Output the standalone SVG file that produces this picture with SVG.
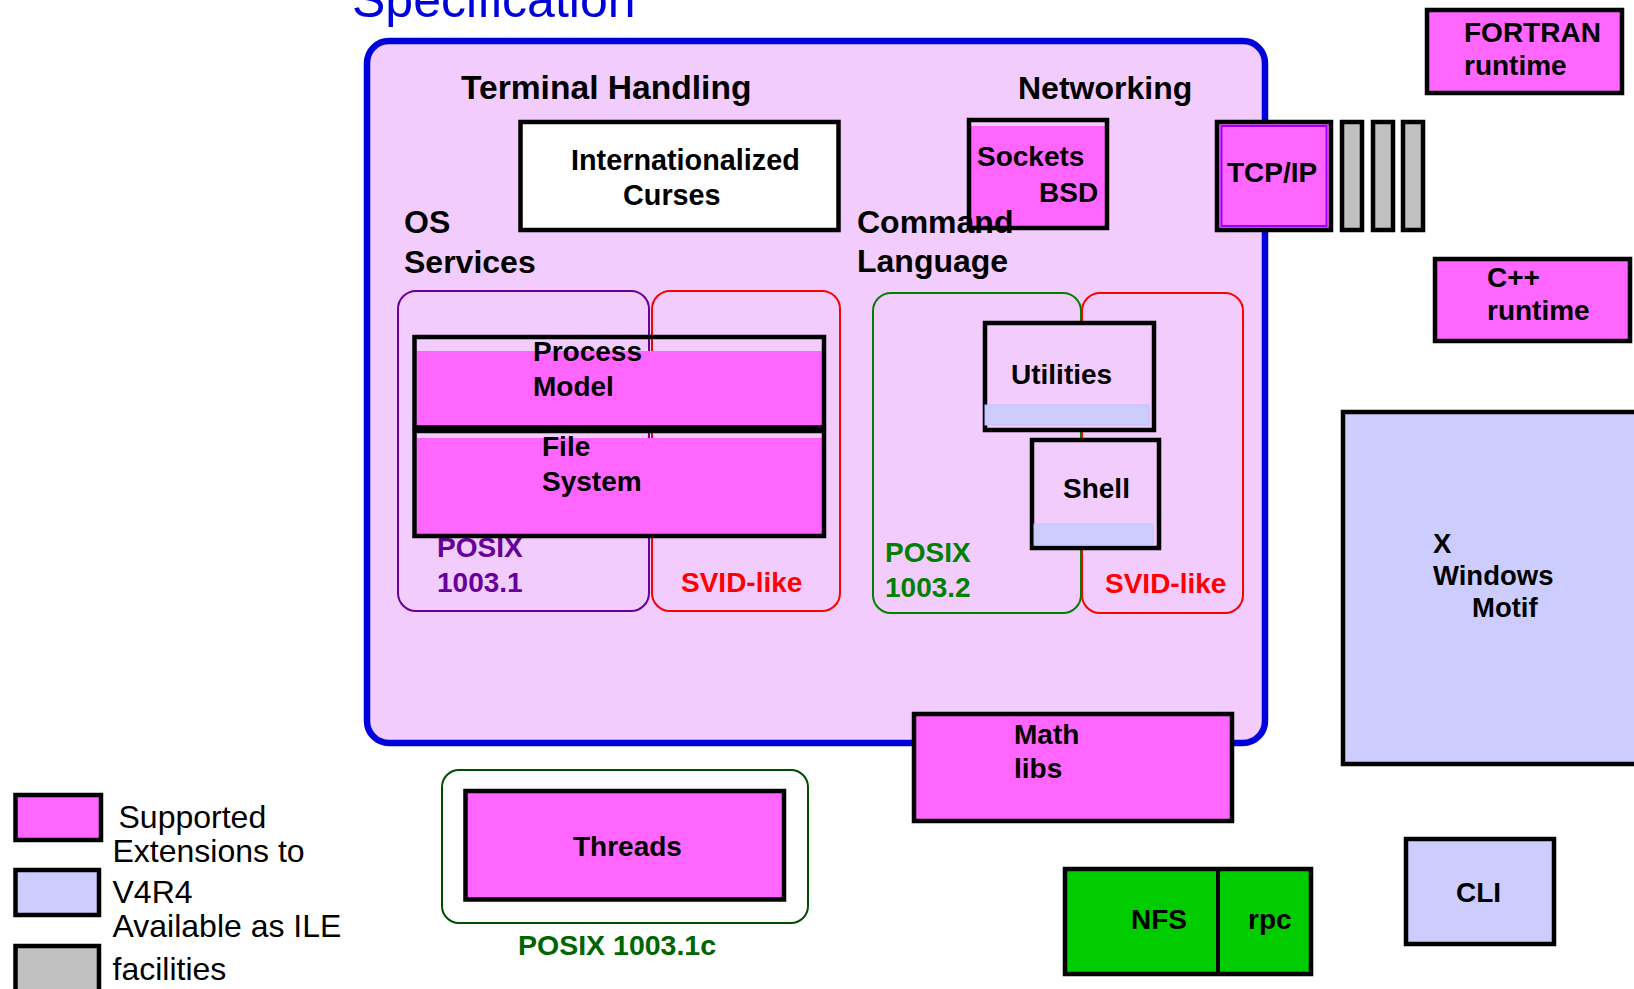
<svg xmlns="http://www.w3.org/2000/svg" width="1634" height="989" viewBox="0 0 1634 989">
  <style>
    text { font-family: "Liberation Sans", Arial, sans-serif; }
    .b { font-weight: bold; }
    .hd { font-size: 32px; font-weight: bold; fill: #000; }
    .lb { font-size: 28px; font-weight: bold; fill: #000; }
    .lg { font-size: 32px; fill: #000; }
    .box { stroke: #000; stroke-width: 4.5; }
    .pink { fill: #FF66FF; }
    .lav { fill: #F1CCFD; }
    .blue { fill: #CCCCFF; }
    .gray { fill: #C0C0C0; }
    .none { fill: none; }
    .svid { fill: none; stroke: #FF0000; stroke-width: 2; }
    .svidt { fill: #FF0000; }
  </style>

  <rect width="1634" height="989" fill="#FFFFFF"/>

  <!-- title, cut by the top edge -->
  <text x="352" y="17" font-size="50" fill="#0000DD">Specification</text>

  <!-- specification container -->
  <g id="spec">
    <rect x="367" y="41" width="898" height="702" rx="22" fill="#F1CCFD" stroke="#0000DD" stroke-width="6.5"/>
    <text class="hd" x="461" y="99" style="font-size:33.6px">Terminal Handling</text>
    <text class="hd" x="1018" y="99">Networking</text>
    <text class="hd" x="404" y="233">OS</text>
    <text class="hd" x="404" y="273">Services</text>
  </g>

  <g id="curses">
    <rect class="box" x="520.5" y="122" width="318" height="108" fill="#FFFFFF"/>
    <text class="lb" x="571" y="170" style="font-size:28.8px">Internationalized</text>
    <text class="lb" x="623" y="205" style="font-size:28.8px">Curses</text>
  </g>

  <g id="sockets">
    <rect class="pink" x="971" y="126" width="134" height="100"/>
    <rect class="box none" x="969" y="120" width="138" height="108"/>
    <text class="lb" x="977" y="166">Sockets</text>
    <text class="lb" x="1039" y="202">BSD</text>
  </g>

  <g id="command-heading">
    <text class="hd" x="857" y="233">Command</text>
    <text class="hd" x="857" y="272">Language</text>
  </g>

  <!-- OS services: POSIX 1003.1 and SVID-like areas -->
  <g id="posix1">
    <rect x="398" y="291" width="251" height="320" rx="18" fill="none" stroke="#660099" stroke-width="2"/>
    <text class="b" x="437" y="557" font-size="28" fill="#660099">POSIX</text>
    <text class="b" x="437" y="592" font-size="28" fill="#660099">1003.1</text>
  </g>
  <g id="svid1">
    <rect class="svid" x="652" y="291" width="188" height="320" rx="18"/>
    <text class="b svidt" x="681" y="592" font-size="28">SVID-like</text>
  </g>

  <g id="process-model">
    <rect class="pink" x="416.5" y="351" width="405.5" height="76"/>
    <rect class="box none" x="414.5" y="337" width="409.5" height="90.5"/>
    <text class="lb" x="533" y="361">Process</text>
    <text class="lb" x="533" y="396">Model</text>
  </g>
  <g id="file-system">
    <rect class="pink" x="416.5" y="438" width="405.5" height="96"/>
    <rect class="box none" x="414.5" y="431" width="409.5" height="105"/>
    <text class="lb" x="542" y="456">File</text>
    <text class="lb" x="542" y="491">System</text>
  </g>

  <!-- command language: POSIX 1003.2 and SVID-like areas -->
  <g id="posix2">
    <rect x="873" y="293" width="208" height="320" rx="18" fill="none" stroke="#008000" stroke-width="2"/>
    <text class="b" x="885" y="562" font-size="28" fill="#008000">POSIX</text>
    <text class="b" x="885" y="597" font-size="28" fill="#008000">1003.2</text>
  </g>
  <g id="svid2">
    <rect class="svid" x="1082" y="293" width="161" height="320" rx="18"/>
    <text class="b svidt" x="1105" y="593" font-size="28">SVID-like</text>
  </g>

  <g id="utilities">
    <rect class="box lav" x="985" y="323" width="169" height="107"/>
    <rect x="985" y="405" width="164" height="20" fill="#CCCCFF" stroke="#C0C0FF" stroke-width="1"/>
    <text class="lb" x="1011" y="384">Utilities</text>
  </g>
  <g id="shell">
    <rect class="box lav" x="1032" y="440" width="127" height="108"/>
    <rect x="1034" y="524" width="119" height="21" fill="#CCCCFF" stroke="#C0C0FF" stroke-width="1"/>
    <text class="lb" x="1063" y="498">Shell</text>
  </g>

  <g id="tcpip">
    <rect class="pink" x="1217" y="122" width="114" height="108"/>
    <rect x="1221.5" y="126" width="105" height="100" fill="none" stroke="#9900FF" stroke-width="2"/>
    <rect class="box none" x="1217" y="122" width="114" height="108"/>
    <text class="lb" x="1227" y="182">TCP/IP</text>
  </g>
  <g id="ile-bars">
    <rect class="box gray" x="1342" y="122" width="20" height="108"/>
    <rect class="box gray" x="1373" y="122" width="20" height="108"/>
    <rect class="box gray" x="1403" y="122" width="20" height="108"/>
  </g>

  <g id="fortran">
    <rect class="box pink" x="1427" y="10" width="195" height="83"/>
    <text class="lb" x="1464" y="42">FORTRAN</text>
    <text class="lb" x="1464" y="75">runtime</text>
  </g>
  <g id="cpp">
    <rect class="box pink" x="1435" y="259" width="195" height="82"/>
    <text class="lb" x="1487" y="287">C++</text>
    <text class="lb" x="1487" y="320">runtime</text>
  </g>

  <g id="xwindows">
    <rect class="box blue" x="1343" y="412" width="300" height="352"/>
    <text class="b" x="1433" y="553" font-size="27.5">X</text>
    <text class="b" x="1433" y="585" font-size="27.5">Windows</text>
    <text class="b" x="1472" y="617" font-size="27.5">Motif</text>
  </g>

  <g id="math">
    <rect class="box pink" x="914" y="714" width="318" height="107"/>
    <text class="lb" x="1014" y="744">Math</text>
    <text class="lb" x="1014" y="778">libs</text>
  </g>

  <g id="threads">
    <rect x="442" y="770" width="366" height="153" rx="17" fill="#FFFFFF" stroke="#004D00" stroke-width="2"/>
    <rect class="box pink" x="465.5" y="791" width="318.5" height="108.5"/>
    <text class="lb" x="573" y="856">Threads</text>
    <text class="b" x="518" y="955" font-size="28.5" fill="#006400">POSIX 1003.1c</text>
  </g>

  <g id="nfs-rpc">
    <rect class="box" x="1065" y="869" width="246" height="105" fill="#00CC00"/>
    <line x1="1218" y1="869" x2="1218" y2="974" stroke="#000" stroke-width="4"/>
    <text class="lb" x="1131" y="929">NFS</text>
    <text class="lb" x="1248" y="929">rpc</text>
  </g>

  <g id="cli">
    <rect class="box blue" x="1406" y="839" width="148" height="105"/>
    <text class="lb" x="1456" y="902">CLI</text>
  </g>

  <!-- legend -->
  <g id="legend">
    <rect class="box pink" x="15.5" y="795" width="85.5" height="45"/>
    <rect class="box blue" x="15.5" y="870" width="83.5" height="45"/>
    <rect class="box gray" x="15.5" y="946" width="83.5" height="60"/>
    <text class="lg" x="118.5" y="828">Supported</text>
    <text class="lg" x="112.5" y="862">Extensions to</text>
    <text class="lg" x="112.5" y="903">V4R4</text>
    <text class="lg" x="112.5" y="937">Available as ILE</text>
    <text class="lg" x="112.5" y="980">facilities</text>
  </g>

  <g id="connectors"/>
</svg>
